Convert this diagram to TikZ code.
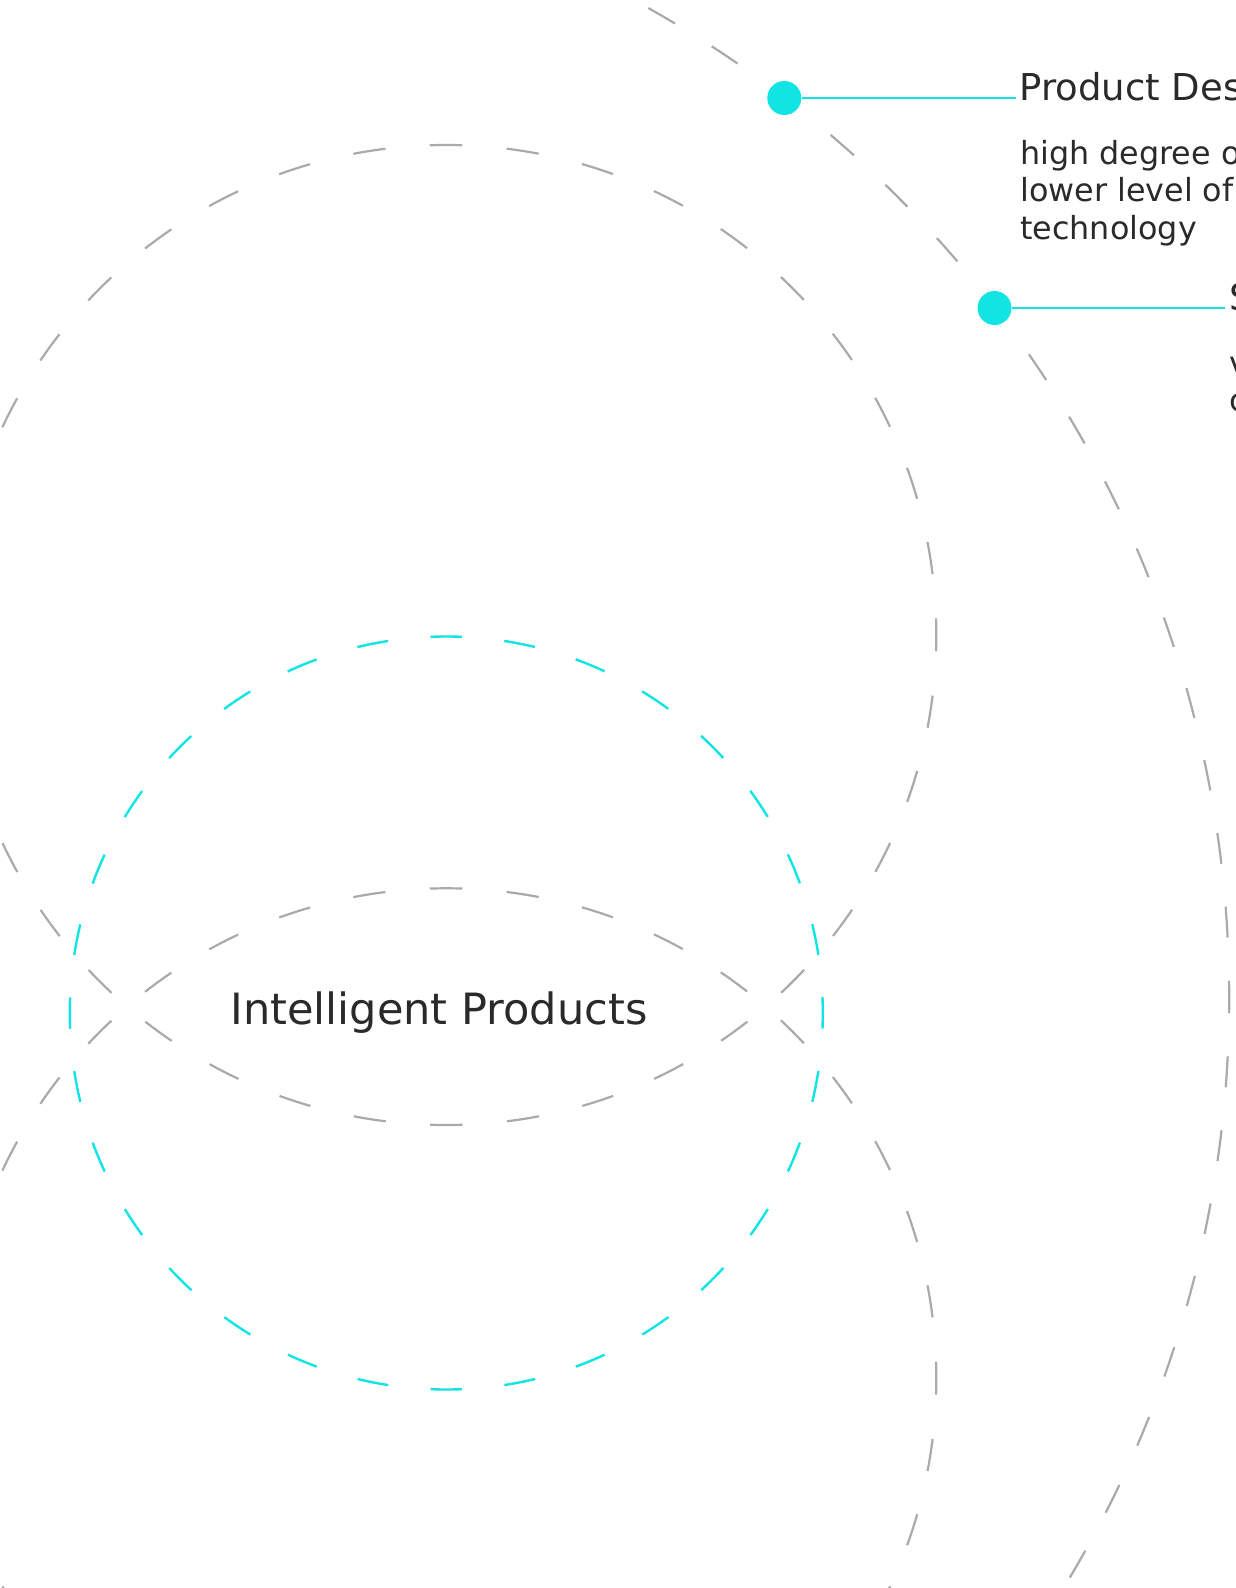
\documentclass[tikz,border=0pt]{standalone}
\usepackage{fontspec}
\setmainfont{DejaVu Sans}
\definecolor{cy}{HTML}{12E3E3}
\definecolor{gr}{HTML}{A9A9AE}
\definecolor{tx}{HTML}{2A2A2A}
\tikzset{
  ring/.style={draw=gr, line width=2.2pt},
  cring/.style={draw=cy, line width=2.4pt},
  dot/.style={circle, fill=cy, minimum size=34pt, inner sep=0pt},
  lead/.style={draw=cy, line width=2pt},
  ttl/.style={anchor=base west, inner sep=0pt, text=tx, font=\fontsize{37}{44}\selectfont},
  dsc/.style={anchor=base west, inner sep=0pt, text=tx, font=\fontsize{31.8}{38}\selectfont},
}
\begin{document}
\begin{tikzpicture}[x=1pt,y=-1pt]
\useasboundingbox (0,0) rectangle (1236,1588);
\clip (0,0) rectangle (1236,1588);
% gray circles
\draw[ring, dash pattern=on 32.5pt off 44.47pt, dash phase=16.25pt] (446.3,635) circle[radius=490];
\draw[ring, dash pattern=on 32.5pt off 44.47pt, dash phase=16.25pt] (446.3,1378.3) circle[radius=490];
\draw[ring, dash pattern=on 31pt off 43.15pt, dash phase=15.5pt] (96.2,997.7) circle[radius=1133];
% cyan circle
\draw[cring, dash pattern=on 31.3pt off 42.63pt, dash phase=15.65pt] (446.3,1013) circle[radius=376.5];
\node[inner sep=0pt, anchor=base, text=tx, font=\fontsize{43.1}{50}\selectfont] (ip) at (439,1024) {Intelligent Products};
% callout 1
\node[dot] (d1) at (784.3,98) {};
\coordinate (e1) at (1015.7,98);
\draw[lead] (d1) -- (e1);
\node[ttl] (t1) at (1019.5,100.7) {Product Design};
\node[dsc] (a1) at (1020,164) {high degree of};
\node[dsc] (b1) at (1020,201.5) {lower level of};
\node[dsc] (c1) at (1020,239) {technology};
% callout 2
\node[dot] (d2) at (994.5,308) {};
\coordinate (e2) at (1225,308);
\draw[lead] (d2) -- (e2);
\node[ttl] (t2) at (1229,310.7) {S};
\node[dsc] (a2) at (1229.5,374) {v};
\node[dsc] (b2) at (1229.5,411.5) {c};
\end{tikzpicture}
\end{document}
